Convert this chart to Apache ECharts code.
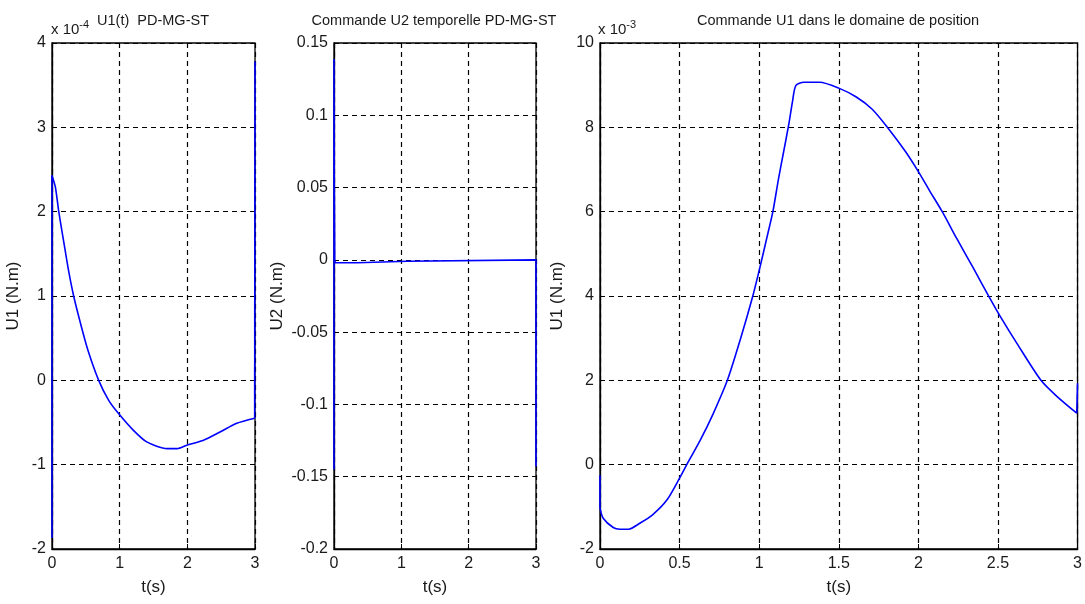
<!DOCTYPE html>
<html>
<head>
<meta charset="utf-8">
<title>Commande U1 / U2 PD-MG-ST</title>
<script src="https://cdn.jsdelivr.net/npm/echarts@6/dist/echarts.min.js"></script>
<style>
	html, body {
		margin: 0;
		padding: 0;
		background: #fff;
	}
	#chart {
		width: 1085px;
		height: 604px;
	}
</style>
</head>
<body>
<div id="chart"></div>
<script>
	// U1(t), valeurs en x 10^-4 N.m
	const t1 = [0, 0, 0.05, 0.1, 0.17, 0.245, 0.32, 0.42, 0.53, 0.69, 0.84, 0.99, 1.2, 1.4, 1.7, 1.85, 1.99, 2.24, 2.49, 2.73, 2.995, 3.0];
	const u1 = [-1.87, 2.43, 2.29, 2.0, 1.66, 1.30, 1.0, 0.68, 0.36, 0, -0.24, -0.40, -0.59, -0.73, -0.81, -0.81, -0.77, -0.71, -0.61, -0.51, -0.45, 3.78];

	// U2(t), N.m
	const t2 = [0, 0, 0.004, 0.01, 0.02, 0.35, 0.36, 1.09, 1.1, 3.0, 3.0];
	const u2 = [-0.145, 0.139, 0.05, 0.0, -0.002, -0.002, -0.001, -0.001, 0, 0, -0.143];

	// U1 dans le domaine de position, valeurs en x 10^-3 N.m
	const t3 = [0, 0, 0.02, 0.083, 0.125, 0.18, 0.25, 0.33, 0.42, 0.5, 0.545, 0.63, 0.71, 0.80, 0.88, 0.96, 1.006, 1.05, 1.086, 1.12, 1.15, 1.185, 1.21, 1.23, 1.28, 1.38, 1.50, 1.61, 1.71, 1.81, 1.92, 2.0, 2.07, 2.15, 2.24, 2.35, 2.44, 2.52, 2.62, 2.77, 2.87, 2.995, 3.0];
	const u3 = [-0.25, -1.03, -1.27, -1.49, -1.53, -1.53, -1.39, -1.19, -0.84, -0.32, 0.0, 0.58, 1.2, 2.0, 2.95, 4.0, 4.70, 5.41, 6.0, 6.75, 7.35, 8.05, 8.63, 8.99, 9.07, 9.07, 8.93, 8.72, 8.43, 7.98, 7.42, 6.95, 6.50, 6.0, 5.37, 4.63, 4.01, 3.48, 2.87, 2.0, 1.62, 1.22, 1.93];

	const titles = ['U1(t)  PD-MG-ST', 'Commande U2 temporelle PD-MG-ST', 'Commande U1 dans le domaine de position'];
	const yNames = ['U1 (N.m)', 'U2 (N.m)', 'U1 (N.m)'];
	const xName = 't(s)';

	const FONT = '"Liberation Sans", Arial, sans-serif';
	const TXT = '#1a1a1a';

	const pairs = (xs, ys) => xs.map((x, i) => [x, ys[i]]);

	const grids = [
		{ left: 52, top: 43, width: 203, height: 506 },
		{ left: 334, top: 43, width: 202, height: 506 },
		{ left: 600, top: 43, width: 478, height: 506 }
	];

	const dashed = {
		show: true,
		lineStyle: { color: '#000', type: [5, 4], width: 1.2 }
	};

	function xAxis(i, interval) {
		return {
			type: 'value',
			gridIndex: i,
			min: 0,
			max: 3,
			interval: interval,
			name: xName,
			nameLocation: 'middle',
			nameGap: 30,
			nameTextStyle: { color: TXT, fontSize: 17, fontFamily: FONT },
			axisLine: { show: true, onZero: false, lineStyle: { color: '#000', width: 1.3 } },
			axisTick: { show: true, inside: true, length: 5, lineStyle: { color: '#000' } },
			axisLabel: { color: TXT, fontSize: 16, fontFamily: FONT, margin: 7 },
			splitLine: dashed
		};
	}

	function yAxis(i, min, max, interval, gap, fmt) {
		return {
			type: 'value',
			gridIndex: i,
			min: min,
			max: max,
			interval: interval,
			name: yNames[i],
			nameLocation: 'middle',
			nameGap: gap,
			nameRotate: 90,
			nameTextStyle: { color: TXT, fontSize: 17, fontFamily: FONT },
			axisLine: { show: true, onZero: false, lineStyle: { color: '#000', width: 1.3 } },
			axisTick: { show: true, inside: true, length: 5, lineStyle: { color: '#000' } },
			axisLabel: { color: TXT, fontSize: 16, fontFamily: FONT, margin: 6, formatter: fmt },
			splitLine: dashed
		};
	}

	function lineSeries(i, data, smooth) {
		return {
			type: 'line',
			xAxisIndex: i,
			yAxisIndex: i,
			data: data,
			showSymbol: false,
			clip: true,
			smooth: smooth,
			animation: false,
			lineStyle: { color: '#0000ff', width: 1.6 }
		};
	}

	// courbe lissee + sauts verticaux au debut et a la fin (non lisses)
	function curveWithJumps(i, xs, ys) {
		const d = pairs(xs, ys);
		const n = d.length;
		return [
			lineSeries(i, d.slice(0, 2), false),
			lineSeries(i, d.slice(1, n - 1), 0.25),
			lineSeries(i, d.slice(n - 2), false)
		];
	}

	function titleText(x, txt) {
		return {
			type: 'text',
			x: x,
			y: 21,
			style: {
				text: txt,
				fill: TXT,
				font: '14.5px ' + FONT,
				textAlign: 'center',
				textVerticalAlign: 'middle'
			}
		};
	}

	function expoText(x, p) {
		return {
			type: 'text',
			x: x,
			y: 19,
			style: {
				text: 'x 10{s|' + p + '}',
				fill: TXT,
				font: '15px ' + FONT,
				rich: {
					s: { fontSize: 11, fontFamily: FONT, fill: TXT, verticalAlign: 'top', padding: [0, 0, 10, 0] }
				}
			}
		};
	}

	const chart = echarts.init(document.getElementById('chart'));

	const option = {
		backgroundColor: '#fff',
		animation: false,
		grid: grids.map(g => Object.assign({ show: true, borderColor: '#000', borderWidth: 1.3, backgroundColor: '#fff' }, g)),
		xAxis: [xAxis(0, 1), xAxis(1, 1), xAxis(2, 0.5)],
		yAxis: [
			yAxis(0, -2, 4, 1, 30),
			yAxis(1, -0.2, 0.15, 0.05, 48, v => String(parseFloat(v.toFixed(2)))),
			yAxis(2, -2, 10, 2, 34)
		],
		series: [].concat(
			curveWithJumps(0, t1, u1),
			[lineSeries(1, pairs(t2, u2), false)],
			curveWithJumps(2, t3, u3)
		),
		graphic: [
			titleText(153, titles[0]),
			titleText(434, titles[1]),
			titleText(838, titles[2]),
			expoText(51, '-4'),
			expoText(598, '-3')
		]
	};

	chart.setOption(option);
</script>
</body>
</html>
